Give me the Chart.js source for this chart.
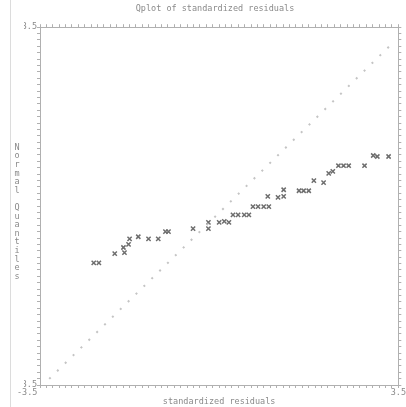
<!DOCTYPE html>
<html>
<head>
<meta charset="utf-8">
<script src="https://cdn.jsdelivr.net/npm/chart.js@4/dist/chart.umd.min.js"></script>
<style>
  html, body { margin: 0; padding: 0; background: #fff; }
  #wrap { width: 406px; height: 407px; }
</style>
</head>
<body>
<div id="wrap"><canvas id="qplot" width="406" height="407"></canvas></div>
<script>
// sorted standardized residuals (x) against normal quantiles (y)
const residuals = [-2.45, -2.35, -2.04, -1.87, -1.85, -1.77, -1.75, -1.58, -1.38, -1.19,
  -1.05, -0.99, -0.51, -0.21, -0.21, 0.00, 0.10, 0.19, 0.27, 0.37,
  0.49, 0.58, 0.66, 0.76, 0.87, 0.97, 0.95, 1.15, 1.26, 1.26,
  1.56, 1.65, 1.75, 1.85, 2.04, 2.14, 2.22, 2.33, 2.43, 2.53,
  2.84, 3.01, 3.09, 3.31];
const quantiles = [-1.11, -1.11, -0.93, -0.81, -0.91, -0.75, -0.64, -0.60, -0.64, -0.64,
  -0.50, -0.50, -0.44, -0.44, -0.32, -0.32, -0.30, -0.32, -0.17, -0.17,
  -0.17, -0.17, -0.01, -0.01, -0.01, -0.01, 0.19, 0.17, 0.19, 0.32,
  0.30, 0.30, 0.30, 0.50, 0.46, 0.64, 0.68, 0.79, 0.79, 0.79,
  0.79, 0.99, 0.97, 0.97];
// reference line ends
const refX = [-3.32, 3.37];
const refY = [-3.38, 3.17];
const axisMin = -3.5;
const axisMax = 3.5;

const titleText = 'Qplot of standardized residuals';
const xTitle = 'standardized residuals';
const yTitle = 'Normal Quantiles';

const mono = 'DejaVu Sans Mono';
const txtColor = '#8a8a8a';
const axisColor = '#b0b0b0';

function pts(xs, ys) {
  return xs.map((x, i) => ({ x: x, y: ys[i] }));
}

function endLabel(v) {
  return (v === axisMin || v === axisMax) ? v.toFixed(1) : '';
}

// left frame line and the stacked y label
const decor = {
  id: 'decor',
  beforeDraw(chart) {
    const ctx = chart.ctx;
    ctx.save();
    ctx.strokeStyle = '#dcdcdc';
    ctx.lineWidth = 1;
    ctx.beginPath();
    ctx.moveTo(10.5, 0);
    ctx.lineTo(10.5, chart.height);
    ctx.stroke();
    ctx.restore();
  },
  afterDraw(chart) {
    const ctx = chart.ctx;
    const a = chart.chartArea;
    const step = 8.6;
    const chars = yTitle.split('');
    let y = (a.top + a.bottom) / 2 + 6 - (chars.length - 1) * step / 2;
    ctx.save();
    ctx.fillStyle = txtColor;
    ctx.font = '8.5px "' + mono + '"';
    ctx.textAlign = 'center';
    ctx.textBaseline = 'middle';
    chars.forEach(c => {
      ctx.fillText(c, 17, y);
      y += step;
    });
    ctx.restore();
  }
};

function edgeScale(pos, showLabels) {
  return {
    type: 'linear',
    position: pos,
    min: axisMin,
    max: axisMax,
    border: { display: true, color: axisColor, dash: [1, 2], width: 1 },
    grid: { drawOnChartArea: false, drawTicks: true, tickLength: 3, color: axisColor, lineWidth: 1 },
    ticks: {
      display: showLabels,
      stepSize: 0.125,
      autoSkip: false,
      maxRotation: 0,
      padding: 0,
      color: txtColor,
      font: { family: mono, size: 8.5 },
      callback: endLabel
    }
  };
}

const xScale = edgeScale('bottom', true);
// the low end label sits left of the corner, as in the reference
xScale.ticks.callback = v => (v === axisMin ? endLabel(v) + '     ' : endLabel(v));
xScale.title = { display: true, text: xTitle, color: txtColor, font: { family: mono, size: 8.5 }, padding: { top: 0, bottom: 0 } };
xScale.afterFit = s => { s.height = 22; };

const yScale = edgeScale('left', true);
yScale.afterFit = s => { s.width = 16; };

const x2Scale = edgeScale('top', false);
x2Scale.afterFit = s => { s.height = 9; };

const y2Scale = edgeScale('right', false);
y2Scale.afterFit = s => { s.width = 6; };

new Chart(document.getElementById('qplot'), {
  type: 'scatter',
  data: {
    datasets: [
      {
        label: 'reference',
        data: pts(refX, refY),
        showLine: true,
        borderColor: '#c4c4c4',
        borderWidth: 2,
        borderDash: [2, 9],
        pointRadius: 0
      },
      {
        label: 'residuals',
        data: pts(residuals, quantiles),
        pointStyle: 'crossRot',
        pointRadius: 3,
        borderWidth: 1.5,
        borderColor: '#6e6e6e',
        backgroundColor: '#6e6e6e'
      }
    ]
  },
  options: {
    responsive: false,
    animation: false,
    layout: { padding: { left: 24, right: 0, top: 0, bottom: 0 } },
    plugins: {
      legend: { display: false },
      tooltip: { enabled: false },
      title: {
        display: true,
        text: titleText,
        color: txtColor,
        font: { family: mono, size: 8.5, weight: 'normal' },
        padding: { top: 4, bottom: 4 }
      }
    },
    scales: { x: xScale, y: yScale, x2: x2Scale, y2: y2Scale }
  },
  plugins: [decor]
});
</script>
</body>
</html>
